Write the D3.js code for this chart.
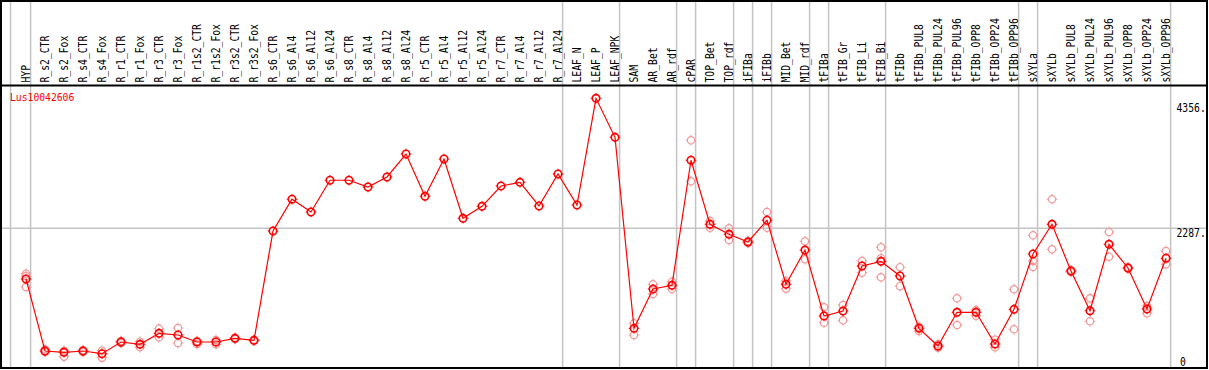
<!DOCTYPE html>
<html>
<head>
<meta charset="utf-8">
<script src="https://cdn.jsdelivr.net/npm/d3@7"></script>
<style>
  body { margin: 0; background: #fff; }
  text { font-family: 'DejaVu Sans Mono', monospace; font-size: 12px; }
</style>
</head>
<body>
<div id="chart"></div>
<script>
const geneName = 'Lus10042606'

const categories = ['HYP', 'R_s2_CTR', 'R_s2_Fox', 'R_s4_CTR', 'R_s4_Fox', 'R_r1_CTR', 'R_r1_Fox',
  'R_r3_CTR', 'R_r3_Fox', 'R_r1s2_CTR', 'R_r1s2_Fox', 'R_r3s2_CTR', 'R_r3s2_Fox',
  'R_s6_CTR', 'R_s6_Al4', 'R_s6_Al12', 'R_s6_Al24', 'R_s8_CTR', 'R_s8_Al4', 'R_s8_Al12', 'R_s8_Al24',
  'R_r5_CTR', 'R_r5_Al4', 'R_r5_Al12', 'R_r5_Al24', 'R_r7_CTR', 'R_r7_Al4', 'R_r7_Al12', 'R_r7_Al24',
  'LEAF_N', 'LEAF_P', 'LEAF_NPK', 'SAM', 'AR_Bet', 'AR_rdf', 'cPAR', 'TOP_Bet', 'TOP_rdf',
  'iFIBa', 'iFIBb', 'MID_Bet', 'MID_rdf', 'tFIBa', 'tFIB_Gr', 'tFIB_Li', 'tFIB_Bi',
  'tFIBb', 'tFIBb_PUL8', 'tFIBb_PUL24', 'tFIBb_PUL96', 'tFIBb_OPP8', 'tFIBb_OPP24', 'tFIBb_OPP96',
  'sXYLa', 'sXYLb', 'sXYLb_PUL8', 'sXYLb_PUL24', 'sXYLb_PUL96', 'sXYLb_OPP8', 'sXYLb_OPP24', 'sXYLb_OPP96']

// mean expression per sample
const means = [1420, 188, 166, 188, 142, 342, 303, 491, 462, 342, 342, 405, 371,
  2240, 2784, 2565, 3108, 3108, 2993, 3164, 3557,
  2834, 3472, 2458, 2663, 3010, 3073, 2668, 3215,
  2685, 4510, 3843, 576, 1248, 1312, 3450, 2355, 2184,
  2052, 2424, 1329, 1915, 787, 872, 1642, 1722,
  1471, 576, 274, 850, 850, 308, 901,
  1847, 2355, 1556, 877, 2013, 1608, 906, 1774]

// replicate values per sample
const reps = [[1510, 1471, 1283], [217, 171], [193, 91], [200, 171], [193, 74], [359, 325], [347, 251],
  [570, 422], [581, 325], [359, 308], [376, 303], [416, 393], [381, 359],
  [], [], [], [], [], [], [], [],
  [], [], [], [], [], [], [], [],
  [], [], [], [662, 462], [1329, 1163], [1373, 1248], [3792, 3090], [2411, 2297], [2287, 2087],
  [2035, 2069], [2565, 2297], [1385, 1254], [2064, 1756], [936, 672], [975, 713], [1727, 1527], [1962, 1774, 1449],
  [1621, 1296], [604, 530], [303, 245], [1089, 633], [889, 792], [381, 251], [1243, 559],
  [2167, 1727, 1625], [2783, 1927], [1568, 1539], [1089, 696], [2223, 1801], [1620, 1596], [958, 833], [1898, 1671]]

// separators fall right after these samples
const groupEnds = ['HYP', 'R_r7_Al24', 'LEAF_NPK', 'AR_rdf', 'cPAR', 'TOP_rdf', 'iFIBa', 'iFIBb',
  'MID_rdf', 'tFIBa', 'tFIB_Bi', 'tFIBb_OPP96', 'sXYLa', 'sXYLb_OPP96']

const axisTicks = [0, 2287, 4356]
const axisLabels = ['0', '2287.', '4356.']

const width = 1209
const height = 370
const headerBottom = 85.5

const svg = d3.select('#chart').append('svg')
  .attr('width', width)
  .attr('height', height)

svg.append('rect').attr('width', width).attr('height', height).attr('fill', '#fff')

const x = d3.scalePoint().domain(categories).range([26, 1166]).padding(0)
const y = d3.scaleLinear().domain([0, 4356]).range([362, 107.3])

// grid
svg.append('line')
  .attr('x1', 0).attr('x2', 1207)
  .attr('y1', y(2287)).attr('y2', y(2287))
  .attr('stroke', '#c4c4c4').attr('stroke-width', 1.5)

const seps = [x('HYP') - 15.5].concat(groupEnds.map(d => x(d) + 4.6))
svg.selectAll('.sep')
  .data(seps)
  .enter().append('line')
  .attr('class', 'sep')
  .attr('x1', d => d).attr('x2', d => d)
  .attr('y1', 0).attr('y2', 368)
  .attr('stroke', '#c4c4c4').attr('stroke-width', 1.5)

// frame
svg.append('rect')
  .attr('x', 1).attr('y', 1).attr('width', 1206).attr('height', 367)
  .attr('fill', 'none').attr('stroke', '#000').attr('stroke-width', 2)
svg.append('line')
  .attr('x1', 0).attr('x2', 1208)
  .attr('y1', headerBottom).attr('y2', headerBottom)
  .attr('stroke', '#000').attr('stroke-width', 2)

// sample names
svg.selectAll('.cat')
  .data(categories)
  .enter().append('text')
  .attr('class', 'cat')
  .attr('transform', d => `translate(${x(d) + 4},82.5) rotate(-90) scale(0.81,1)`)
  .attr('fill', '#000')
  .text(d => d)

// right axis labels
const labelShift = [4, 8.5, 4.3]
svg.selectAll('.ylab')
  .data(axisTicks)
  .enter().append('text')
  .attr('class', 'ylab')
  .attr('transform', (d, i) => `translate(${i === 0 ? 1180 : 1176.5},${y(d) + labelShift[i]}) scale(0.81,1)`)
  .text((d, i) => axisLabels[i])

svg.append('text')
  .attr('transform', 'translate(10,101) scale(0.81,0.9)')
  .attr('fill', '#f00')
  .text(geneName)

function marker (g, cx, cy, color, w) {
  const r = 3.7
  const m = g.append('g').attr('transform', `translate(${cx},${cy})`)
  m.append('circle').attr('r', r).attr('fill', 'none').attr('stroke', color).attr('stroke-width', w)
  const p = d3.path()
  p.moveTo(0, -r - 1.6); p.lineTo(0, -r + 0.5)
  p.moveTo(0, r - 0.5); p.lineTo(0, r + 1.6)
  p.moveTo(-r - 1.6, 0); p.lineTo(-r + 0.5, 0)
  p.moveTo(r - 0.5, 0); p.lineTo(r + 1.6, 0)
  m.append('path').attr('d', p.toString()).attr('stroke', color).attr('stroke-width', 1)
}

// replicates
const repG = svg.append('g')
categories.forEach((c, i) => {
  reps[i].forEach(v => marker(repG, x(c), y(v), '#f09a9a', 1.2))
})

// mean line
const line = d3.line().x((d, i) => x(categories[i])).y(d => y(d))
svg.append('path')
  .datum(means)
  .attr('d', line)
  .attr('fill', 'none')
  .attr('stroke', '#f00')
  .attr('stroke-width', 1.2)

const meanG = svg.append('g')
categories.forEach((c, i) => marker(meanG, x(c), y(means[i]), '#f00', 1.6))
</script>
</body>
</html>
